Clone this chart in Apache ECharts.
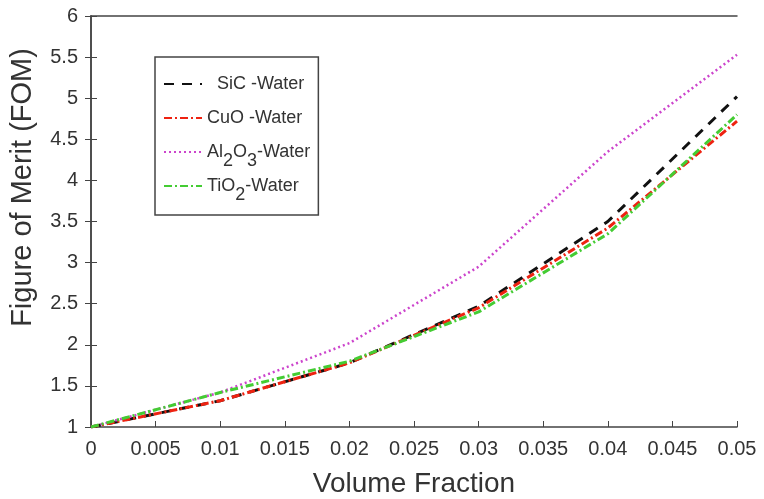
<!DOCTYPE html>
<html><head><meta charset="utf-8">
<script src="https://cdn.jsdelivr.net/npm/echarts@6/dist/echarts.min.js"></script>
<style>html,body{margin:0;padding:0;background:#fff}#c{width:764px;height:499px}</style>
</head><body><div id="c"></div>
<script>
const volumeFraction = [0, 0.01, 0.02, 0.03, 0.04, 0.05];
const sicWater = [1, 1.32, 1.78, 2.47, 3.5, 5.02];
const cuoWater = [1, 1.32, 1.78, 2.45, 3.42, 4.72];
const al2o3Water = [1, 1.42, 2.02, 2.95, 4.35, 5.53];
const tio2Water = [1, 1.42, 1.8, 2.4, 3.35, 4.8];
const xTicks = ['0','0.005','0.01','0.015','0.02','0.025','0.03','0.035','0.04','0.045','0.05'];

const pts = arr => volumeFraction.map((x, i) => [x, arr[i]]);
const font = 'Liberation Sans, Arial, sans-serif';
const chart = echarts.init(document.getElementById('c'));
const mk = (name, data, color, type, w) => ({
  name, type: 'line', data: pts(data), showSymbol: false, symbol: 'none',
  lineStyle: { color, type, width: w }, itemStyle: { color }
});
chart.setOption({
  animation: false,
  grid: { left: 91, right: 27, top: 16, bottom: 72, containLabel: false, outerBoundsMode: 'none' },
  xAxis: [{
    type: 'value', min: 0, max: 0.05, interval: 0.005,
    name: 'Volume Fraction', nameLocation: 'middle', nameGap: 43,
    nameTextStyle: { fontFamily: font, fontSize: 28, color: '#333' },
    axisLine: { lineStyle: { color: '#444', width: 1.5 } },
    axisTick: { inside: true, length: 6, lineStyle: { color: '#444' } },
    splitLine: { show: false },
    axisLabel: { fontFamily: font, fontSize: 20, color: '#333', margin: 12,
      formatter: v => xTicks[Math.round(v / 0.005)] }
  }, {
    type: 'value', min: 0, max: 0.05, interval: 0.005, position: 'top',
    axisLine: { show: true, lineStyle: { color: '#444', width: 1.5 } },
    axisTick: { show: false }, axisLabel: { show: false }, splitLine: { show: false }
  }],
  yAxis: [{
    type: 'value', min: 1, max: 6, interval: 0.5,
    name: 'Figure of Merit (FOM)', nameLocation: 'middle', nameGap: 54,
    nameTextStyle: { fontFamily: font, fontSize: 29, color: '#333', padding: [0, 0, 0, 68] },
    axisLine: { show: true, lineStyle: { color: '#444', width: 1.5 } },
    axisTick: { show: true, inside: true, length: 6, lineStyle: { color: '#444' } },
    splitLine: { show: false },
    axisLabel: { fontFamily: font, fontSize: 20, color: '#333', margin: 13 }
  }, {
    type: 'value', min: 1, max: 6, interval: 0.5, position: 'right',
    axisLine: { show: true, lineStyle: { color: '#444', width: 1.5 } },
    axisTick: { show: true, inside: true, length: 6, lineStyle: { color: '#444' } },
    axisLabel: { show: false }, splitLine: { show: false }
  }],
  legend: {
    orient: 'vertical', left: 155, top: 57,
    backgroundColor: '#fff', borderColor: '#444', borderWidth: 1.5,
    padding: [18, 8, 11, 8], itemGap: 7, itemWidth: 38, itemHeight: 18,
    itemStyle: { opacity: 0 },
    data: ['SiC -Water', 'CuO -Water', 'Al2O3-Water', 'TiO2-Water'],
    formatter: n => {
      if (n === 'Al2O3-Water') return 'Al{s|2}O{s|3}-Water';
      if (n === 'TiO2-Water') return 'TiO{s|2}-Water';
      if (n === 'SiC -Water') return '  ' + n + '{s| }';
      return n + '{s| }';
    },
    textStyle: { fontFamily: font, fontSize: 18, color: '#333',
      rich: {
        s: { fontFamily: font, fontSize: 18, color: '#333', verticalAlign: 'bottom', padding: [18, 0, 0, 0] }
      } }
  },
  series: [
    mk('SiC -Water', sicWater, '#111', [10, 8], 3),
    mk('CuO -Water', cuoWater, '#ee2211', [8, 3, 2, 3], 3),
    mk('Al2O3-Water', al2o3Water, '#cc44cc', [2, 3], 2.5),
    mk('TiO2-Water', tio2Water, '#44cc33', [8, 3, 2, 3], 3)
  ]
});
</script></body></html>
